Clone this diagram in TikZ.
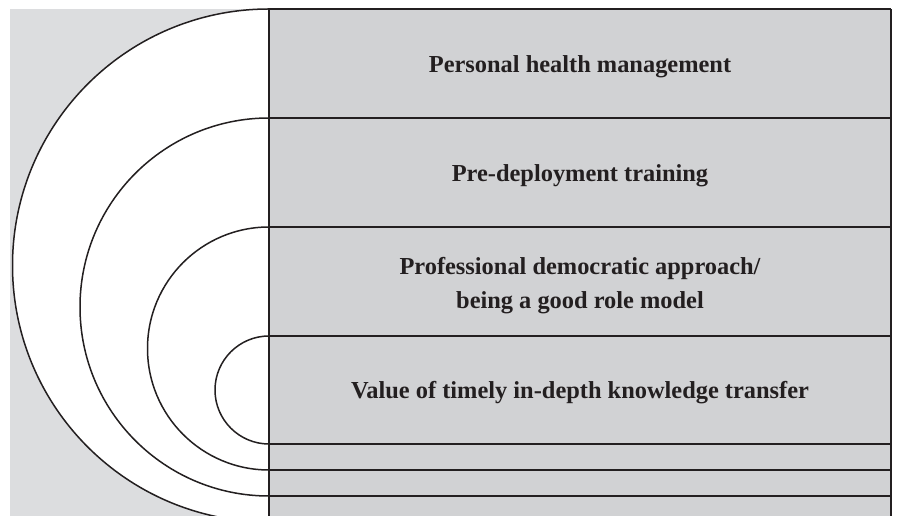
\documentclass[tikz,border=0pt]{standalone}
\usepackage{fontspec}
\setmainfont{Liberation Serif}
\definecolor{ink}{HTML}{231F20}
\definecolor{outerbg}{HTML}{DCDDDF}
\definecolor{boxfill}{HTML}{D1D2D4}
\tikzset{
  rule/.style={draw=ink, line width=2pt},
  ring/.style={draw=ink, line width=1.5pt, fill=white},
  label/.style={text=ink, align=center, inner sep=0pt,
    font=\fontsize{24.4}{34}\selectfont\bfseries},
}
\begin{document}
\begin{tikzpicture}[x=1pt,y=1pt]
  \useasboundingbox (0,0) rectangle (897,516);
  \clip (0,0) rectangle (897,516);
  % page background
  \fill[white] (0,0) rectangle (897,516);
  \fill[outerbg] (10,0) rectangle (269,507);
  \fill[boxfill] (269,0) rectangle (891,507);

  % nested half rings, outermost first
  \draw[ring] (269,507) arc[start angle=90, end angle=270, radius=256.5];
  \draw[ring] (269,398) arc[start angle=90, end angle=270, radius=189];
  \draw[ring] (269,289) arc[start angle=90, end angle=270, radius=121.5];
  \draw[ring] (269,180) arc[start angle=90, end angle=270, radius=54];

  % row rules of the right-hand panel
  \coordinate (tl) at (269,507);
  \coordinate (tr) at (891,507);
  \coordinate (bl) at (269,0);
  \coordinate (br) at (891,0);
  \draw[rule] (tl) -- (tr);
  \foreach \yy in {398,289,180,72,46,20}
    \draw[rule] (269,\yy) -- (891,\yy);
  \draw[rule] (tl) -- (bl);
  \draw[rule] (tr) -- (br);

  % row labels
  \node[label] (l1) at (580,449.5) {Personal health management};
  \node[label] (l2) at (580,340.5) {Pre-deployment training};
  \node[label] (l3) at (580,230.5) {Professional democratic approach/\\being a good role model};
  \node[label] (l4) at (580,123) {Value of timely in-depth knowledge transfer};
\end{tikzpicture}
\end{document}
